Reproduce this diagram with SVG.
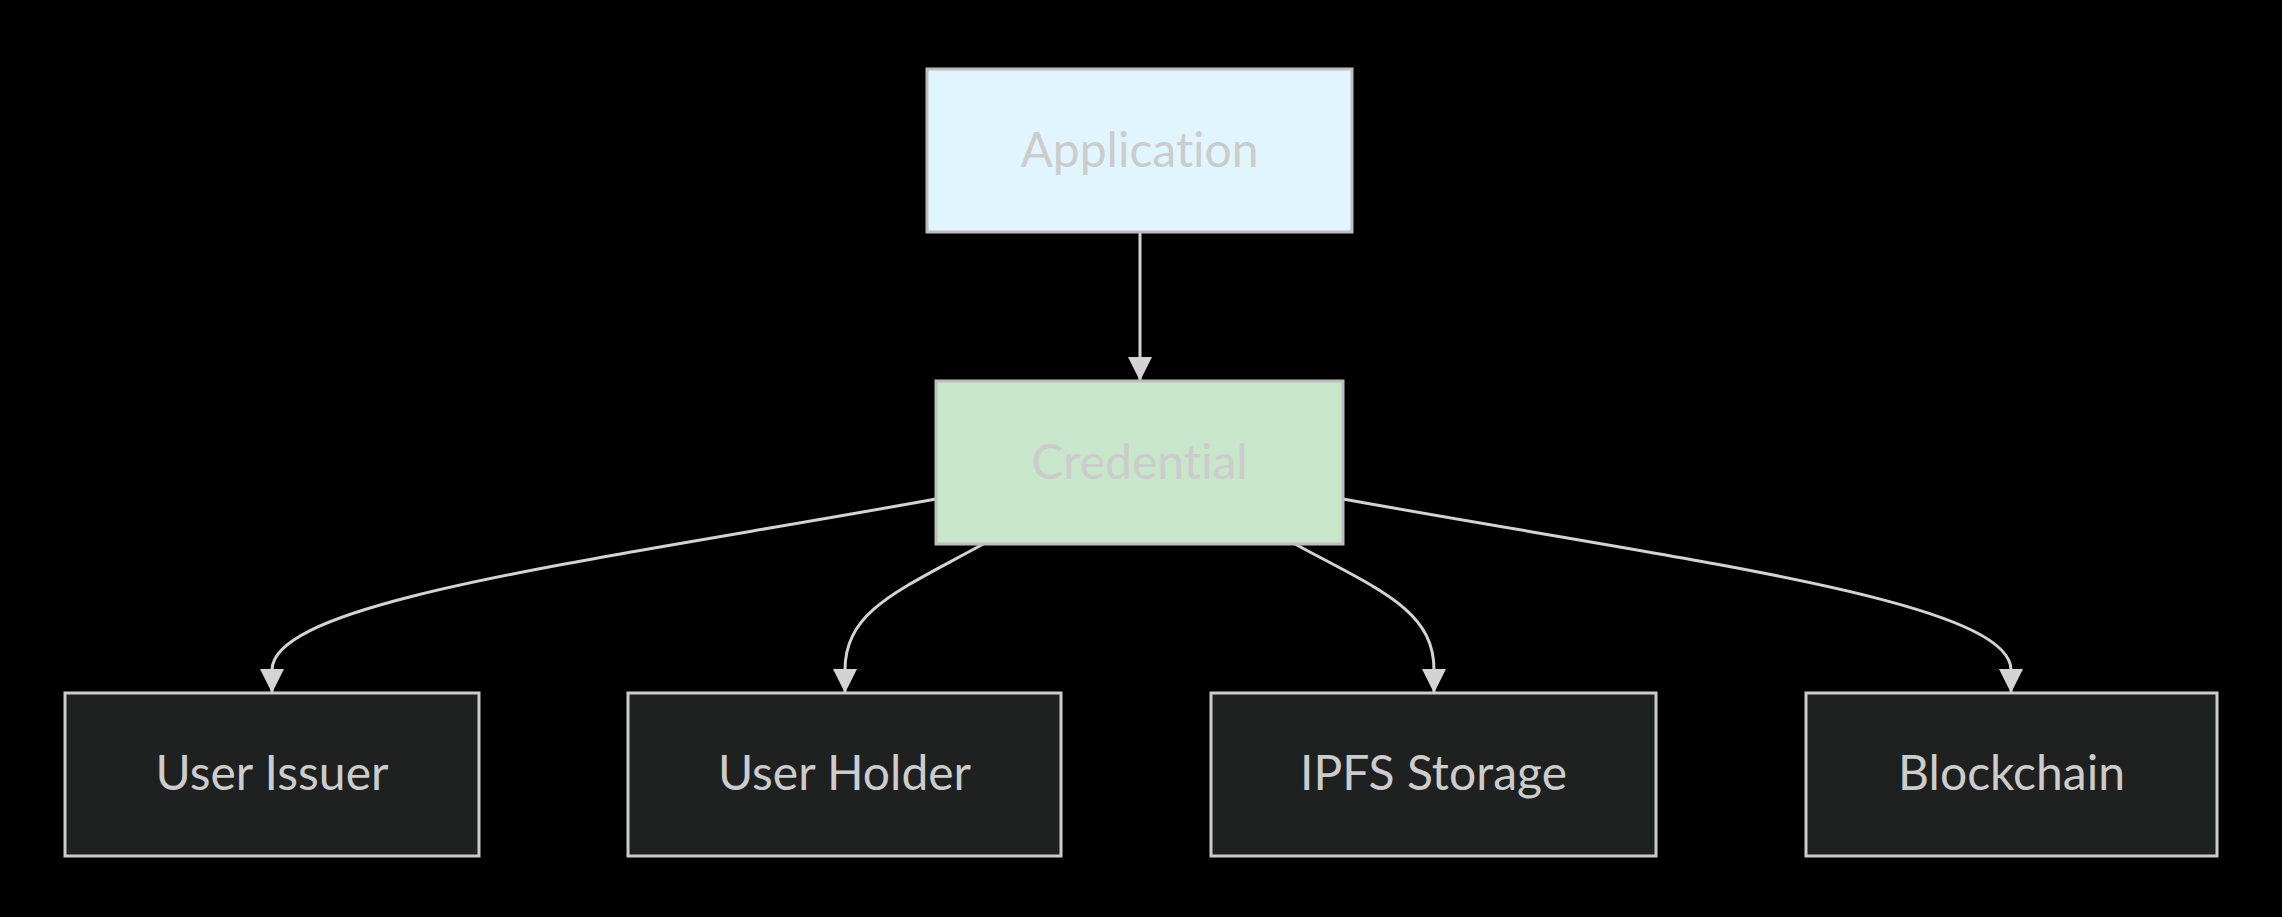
<svg xmlns="http://www.w3.org/2000/svg" width="2282" height="917" viewBox="0 0 2282 917">
<style>
.bg{fill:#000}
.node rect{stroke:#c4c4c4;stroke-width:3}
.top rect{stroke:#bdbdbd}
.dark rect{fill:#1f2020;stroke:#cccccc}
.node text{font-family:Lato,"DejaVu Sans Condensed",sans-serif;font-size:48px;fill:#cccccc;text-anchor:middle;font-variant-ligatures:none;font-feature-settings:"liga" 0,"clig" 0}
.edge{fill:none;stroke:#d3d3d3;stroke-width:3}
</style>
<defs>
<marker id="ah" markerUnits="userSpaceOnUse" markerWidth="24" markerHeight="24" refX="23" refY="12" orient="auto" viewBox="0 0 24 24">
<path d="M0,0 L24,12 L0,24 Z" fill="#d3d3d3"/>
</marker>
</defs>
<rect class="bg" x="0" y="0" width="2282" height="917"/>
<g id="connectors">
<path class="edge" d="M1140,232 L1140,380" marker-end="url(#ah)"/>
<path class="edge" d="M936,499 C600,560 272,600 272,670 L272,692" marker-end="url(#ah)"/>
<path class="edge" d="M985,543 C900,590 845,610 845,670 L845,692" marker-end="url(#ah)"/>
<path class="edge" d="M1293,543 C1380,590 1434,610 1434,670 L1434,692" marker-end="url(#ah)"/>
<path class="edge" d="M1343,499 C1679,560 2011,600 2011,670 L2011,692" marker-end="url(#ah)"/>
</g>
<g id="node-application" class="node top">
<rect x="927" y="69" width="425" height="163" fill="#e1f5fe"/>
<text x="1139.5" y="167">Application</text>
</g>
<g id="node-credential" class="node top">
<rect x="936" y="381" width="407" height="163" fill="#c8e6c9"/>
<text x="1139.5" y="479">Credential</text>
</g>
<g id="node-user-issuer" class="node dark">
<rect x="65" y="693" width="414" height="163"/>
<text x="272" y="790">User Issuer</text>
</g>
<g id="node-user-holder" class="node dark">
<rect x="628" y="693" width="433" height="163"/>
<text x="844.5" y="790">User Holder</text>
</g>
<g id="node-ipfs-storage" class="node dark">
<rect x="1211" y="693" width="445" height="163"/>
<text x="1433.5" y="790">IPFS Storage</text>
</g>
<g id="node-blockchain" class="node dark">
<rect x="1806" y="693" width="411" height="163"/>
<text x="2011.5" y="790">Blockchain</text>
</g>
</svg>
